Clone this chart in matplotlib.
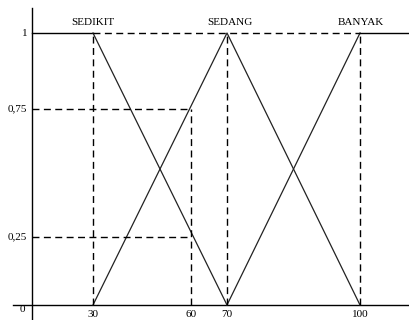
import numpy as np
import matplotlib
matplotlib.use("Agg")
import matplotlib.pyplot as plt

# ---- data ----
sedikit_x = [0, 30, 70]
sedikit_y = [1, 1, 0]
sedang_x = [30, 70, 100]
sedang_y = [0, 1, 0]
banyak_x = [70, 100, 115]
banyak_y = [0, 1, 1]
set_labels = ["SEDIKIT", "SEDANG", "BANYAK"]
set_peaks = [30, 70, 100]
x_ticks = [30, 60, 70, 100]
x_ticklabels = ["30", "60", "70", "100"]
y_ticks = [1, 0.75, 0.25]
y_ticklabels = ["1", "0,75", "0,25"]
guide_level_x = 60
guide_levels = [0.75, 0.25]

# ---- hand-drawn axis spacing (piecewise-linear scale) ----
X_KNOTS = np.array([0, 30, 60, 70, 100], float)
X_PIX = np.array([32, 93, 191, 227, 360], float)
Y_KNOTS = np.array([0, 0.25, 0.75, 1.0], float)
Y_PIX = np.array([15, 83, 211, 287], float)


def make_pw(k, p):
    def fwd(v):
        v = np.asarray(v, float)
        out = np.interp(v, k, p)
        lo = v < k[0]
        hi = v > k[-1]
        s0 = (p[1] - p[0]) / (k[1] - k[0])
        s1 = (p[-1] - p[-2]) / (k[-1] - k[-2])
        out = np.where(lo, p[0] + (v - k[0]) * s0, out)
        out = np.where(hi, p[-1] + (v - k[-1]) * s1, out)
        return out

    def inv(q):
        q = np.asarray(q, float)
        out = np.interp(q, p, k)
        lo = q < p[0]
        hi = q > p[-1]
        s0 = (k[1] - k[0]) / (p[1] - p[0])
        s1 = (k[-1] - k[-2]) / (p[-1] - p[-2])
        out = np.where(lo, k[0] + (q - p[0]) * s0, out)
        out = np.where(hi, k[-1] + (q - p[-1]) * s1, out)
        return out
    return fwd, inv


xf, xi = make_pw(X_KNOTS, X_PIX)
yf, yi = make_pw(Y_KNOTS, Y_PIX)

W, H = 409, 320
fig = plt.figure(figsize=(W / 100, H / 100), dpi=100)
ax = fig.add_axes([0, 0, 1, 1])
ax.set_xscale("function", functions=(xf, xi))
ax.set_yscale("function", functions=(yf, yi))
ax.set_xlim(float(xi(0)), float(xi(W)))
ax.set_ylim(float(yi(0)), float(yi(H)))
ax.axis("off")

plt.rcParams["font.family"] = ["Liberation Serif", "DejaVu Serif"]
fs = 8
dash = (0, (5, 3.2))
lc = "#222222"

# axes lines
ax.plot([0, 0], [float(yi(0)), float(yi(H - 8))], color="black", lw=1.0)
ax.plot([float(xi(13)), float(xi(W - 1))], [0, 0], color="black", lw=1.0)

# membership functions
ax.plot(sedikit_x[:2], sedikit_y[:2], color="black", lw=1.0)
ax.plot(sedikit_x[1:], sedikit_y[1:], color=lc, lw=0.9)
ax.plot(sedang_x, sedang_y, color=lc, lw=0.9)
ax.plot(banyak_x[:2], banyak_y[:2], color=lc, lw=0.9)
ax.plot([banyak_x[1], float(xi(W - 1))], banyak_y[1:], color="black", lw=1.0)

# dashed guides
ax.plot([set_peaks[0], set_peaks[-1]], [1, 1], color="black", lw=1.0, ls=dash)
for px in set_peaks:
    ax.plot([px, px], [0, 1], color="black", lw=1.0, ls=dash)
ax.plot([guide_level_x, guide_level_x], [0, max(guide_levels)], color="black", lw=1.0, ls=dash)
for lv in guide_levels:
    ax.plot([0, guide_level_x], [lv, lv], color="black", lw=1.0, ls=dash)

# set labels
offsets = [0, 3, 1]
for lab, px, dx in zip(set_labels, set_peaks, offsets):
    ax.annotate(lab, (px, 1), xytext=(dx * 0.72, 7.5), textcoords="offset points",
                ha="center", va="center", fontsize=fs)

# tick labels
for v, lab in zip(x_ticks, x_ticklabels):
    ax.annotate(lab, (v, 0), xytext=(0, -6.6), textcoords="offset points",
                ha="center", va="center", fontsize=fs)
for v, lab in zip(y_ticks, y_ticklabels):
    ax.annotate(lab, (0, v), xytext=(-3.5, 0), textcoords="offset points",
                ha="right", va="center", fontsize=fs)
ax.annotate("0", (0, 0), xytext=(-7, -3.6), textcoords="offset points",
            ha="center", va="center", fontsize=fs)

fig.savefig("out.png", dpi=100)
